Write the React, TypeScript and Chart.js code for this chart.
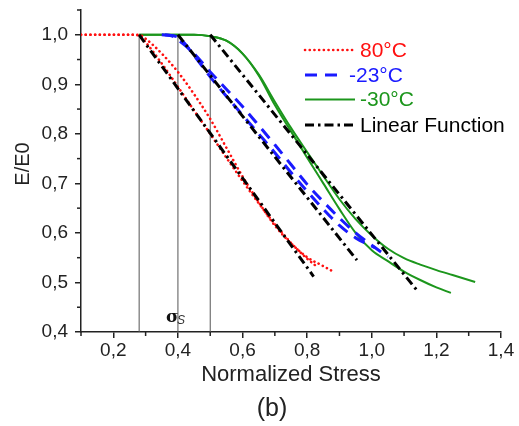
import React, { useEffect, useRef } from "react";
import { Chart, registerables } from "chart.js";

Chart.register(...registerables);

// ---------- data ----------
const stressRedA = [0.10, 0.20, 0.28, 0.30, 0.35, 0.40, 0.45, 0.50, 0.55, 0.60, 0.65, 0.70, 0.75, 0.80, 0.85, 0.875];
const modRedA = [1.000, 1.000, 1.000, 0.992, 0.962, 0.925, 0.880, 0.830, 0.772, 0.714, 0.662, 0.615, 0.579, 0.551, 0.533, 0.524];

const stressRedB = [0.10, 0.26, 0.28, 0.30, 0.35, 0.40, 0.45, 0.50, 0.55, 0.60, 0.65, 0.70, 0.75, 0.80, 0.83];
const modRedB = [1.000, 1.000, 0.998, 0.985, 0.942, 0.895, 0.847, 0.800, 0.752, 0.705, 0.660, 0.618, 0.580, 0.548, 0.532];

const stressBlueA = [0.35, 0.38, 0.40, 0.45, 0.50, 0.55, 0.60, 0.65, 0.70, 0.75, 0.80, 0.85, 0.90, 0.95, 1.00, 1.05];
const modBlueA = [1.000, 0.998, 0.990, 0.962, 0.925, 0.890, 0.855, 0.817, 0.778, 0.738, 0.698, 0.663, 0.630, 0.600, 0.575, 0.552];

const stressBlueB = [0.36, 0.40, 0.45, 0.50, 0.55, 0.60, 0.65, 0.70, 0.75, 0.80, 0.85, 0.90, 0.95, 1.01];
const modBlueB = [1.000, 0.995, 0.958, 0.915, 0.876, 0.838, 0.800, 0.762, 0.722, 0.684, 0.648, 0.615, 0.590, 0.570];

const stressGreenA = [0.28, 0.45, 0.50, 0.55, 0.60, 0.65, 0.70, 0.75, 0.80, 0.85, 0.90, 0.95, 1.00, 1.05, 1.10, 1.15, 1.20, 1.25, 1.32];
const modGreenA = [1.000, 1.000, 0.997, 0.988, 0.962, 0.920, 0.865, 0.812, 0.763, 0.715, 0.668, 0.628, 0.595, 0.568, 0.549, 0.536, 0.525, 0.515, 0.501];

const stressGreenB = [0.28, 0.45, 0.50, 0.55, 0.60, 0.65, 0.70, 0.75, 0.80, 0.85, 0.90, 0.95, 1.00, 1.05, 1.10, 1.15, 1.20, 1.245];
const modGreenB = [1.000, 1.000, 0.997, 0.988, 0.962, 0.918, 0.858, 0.805, 0.752, 0.700, 0.648, 0.600, 0.565, 0.543, 0.522, 0.505, 0.490, 0.479];

// linear functions: start stress at E/E0 = 1, and end points
const linearStart = [0.28, 0.40, 0.50];
const linearEndX = [0.82, 0.954, 1.145];
const linearEndY = [0.512, 0.545, 0.480];

const markerStress = [0.28, 0.40, 0.50];

const xMinorTicks = [0.1, 0.3, 0.5, 0.7, 0.9, 1.1, 1.3];
const yMinorTicks = [0.45, 0.55, 0.65, 0.75, 0.85, 0.95, 1.05];

const legendLabels = ["80°C", "-23°C", "-30°C", "Linear Function"];

// ---------- styles ----------
const FONT = '"Liberation Sans", Arial, sans-serif';
const RED = "#ff1010";
const BLUE = "#1a1aff";
const GREEN = "#1c961c";
const BLACK = "#000000";
const AXIS = "#222222";

const pts = (xs: number[], ys: number[]) => xs.map((x, i) => ({ x, y: ys[i] }));

const redStyle = { borderColor: RED, borderWidth: 2.6, borderDash: [0.1, 4.6], borderCapStyle: "round" as const };
const blueStyle = { borderColor: BLUE, borderWidth: 3, borderDash: [12, 8], borderCapStyle: "butt" as const };
const greenStyle = { borderColor: GREEN, borderWidth: 2, borderDash: [] as number[], borderCapStyle: "butt" as const };
const blackStyle = { borderColor: BLACK, borderWidth: 3, borderDash: [9, 4, 2.5, 4], borderCapStyle: "butt" as const };

const fmt = (v: number | string) => Number(v).toFixed(1).replace(".", ",");

const textPlugin = {
  id: "extraText",
  afterDraw(chart: any) {
    const { ctx, scales } = chart;
    const x = scales.x;
    const y = scales.y;
    ctx.save();
    // minor ticks
    ctx.strokeStyle = AXIS;
    ctx.lineWidth = 1.5;
    for (const v of xMinorTicks) {
      const px = x.getPixelForValue(v);
      ctx.beginPath();
      ctx.moveTo(px, y.bottom);
      ctx.lineTo(px, y.bottom + 4);
      ctx.stroke();
    }
    for (const v of yMinorTicks) {
      const py = y.getPixelForValue(v);
      ctx.beginPath();
      ctx.moveTo(x.left, py);
      ctx.lineTo(x.left - 4, py);
      ctx.stroke();
    }

    // axis titles
    ctx.fillStyle = AXIS;
    ctx.textAlign = "center";
    ctx.textBaseline = "middle";
    ctx.font = `22px ${FONT}`;
    ctx.fillText("Normalized Stress", 291, 375);
    ctx.save();
    ctx.translate(23, 164);
    ctx.rotate(-Math.PI / 2);
    ctx.font = `20px ${FONT}`;
    ctx.fillText("E/E0", 0, 0);
    ctx.restore();
    ctx.font = `25px ${FONT}`;
    ctx.fillText("(b)", 272, 409);

    // sigma_s label
    ctx.textAlign = "left";
    ctx.textBaseline = "alphabetic";
    ctx.fillStyle = "#111";
    ctx.font = `bold 17px "DejaVu Serif", serif`;
    ctx.fillText("σ", 166, 322);
    ctx.fillStyle = "#333";
    ctx.font = `italic 12px ${FONT}`;
    ctx.fillText("S", 177, 324);

    // legend
    const ds = chart.data.datasets;
    const entries = [
      { style: ds[0], y: 50, lineEnd: 353, textX: 360 },
      { style: ds[2], y: 75, lineEnd: 341, textX: 349 },
      { style: ds[4], y: 99.5, lineEnd: 355, textX: 360 },
      { style: ds[6], y: 125, lineEnd: 353, textX: 360 },
    ];
    entries.forEach((e, i) => {
      ctx.save();
      ctx.strokeStyle = e.style.borderColor;
      ctx.lineWidth = e.style.borderWidth;
      ctx.setLineDash(e.style.borderDash || []);
      ctx.lineCap = e.style.borderCapStyle || "butt";
      ctx.beginPath();
      ctx.moveTo(305, e.y);
      ctx.lineTo(e.lineEnd, e.y);
      ctx.stroke();
      ctx.restore();
      ctx.fillStyle = e.style.borderColor;
      ctx.font = `21px ${FONT}`;
      ctx.textAlign = "left";
      ctx.textBaseline = "middle";
      ctx.fillText(legendLabels[i], e.textX, e.y + 1);
    });
    ctx.restore();
  },
};

export default function App() {
  const ref = useRef<HTMLCanvasElement | null>(null);

  useEffect(() => {
    if (!ref.current) return;
    const curve = { pointRadius: 0, fill: false, cubicInterpolationMode: "monotone" as const };
    const datasets: any[] = [
      { label: legendLabels[0], data: pts(stressRedA, modRedA), ...redStyle, ...curve, order: 2 },
      { label: legendLabels[0], data: pts(stressRedB, modRedB), ...redStyle, ...curve, order: 2 },
      { label: legendLabels[1], data: pts(stressBlueA, modBlueA), ...blueStyle, ...curve, order: 3 },
      { label: legendLabels[1], data: pts(stressBlueB, modBlueB), ...blueStyle, ...curve, order: 3 },
      { label: legendLabels[2], data: pts(stressGreenA, modGreenA), ...greenStyle, ...curve, order: 4 },
      { label: legendLabels[2], data: pts(stressGreenB, modGreenB), ...greenStyle, ...curve, order: 4 },
    ];
    linearStart.forEach((s, i) => {
      datasets.push({
        label: legendLabels[3],
        data: [
          { x: s, y: 1.0 },
          { x: linearEndX[i], y: linearEndY[i] },
        ],
        ...blackStyle,
        pointRadius: 0,
        fill: false,
        order: 1,
      });
    });
    markerStress.forEach((s) => {
      datasets.push({
        label: "marker",
        data: [
          { x: s, y: 0.4 },
          { x: s, y: 1.0 },
        ],
        borderColor: "#555555",
        borderWidth: 1,
        pointRadius: 0,
        fill: false,
        order: 5,
      });
    });

    const chart = new Chart(ref.current, {
      type: "line",
      data: { datasets },
      options: {
        animation: false,
        responsive: false,
        maintainAspectRatio: false,
        layout: { padding: { left: 0, right: 18, top: 10, bottom: 0 } },
        plugins: { legend: { display: false }, tooltip: { enabled: false }, title: { display: false } },
        scales: {
          x: {
            type: "linear",
            min: 0.1,
            max: 1.4,
            ticks: {
              stepSize: 0.2,
              includeBounds: false,
              autoSkip: false,
              maxRotation: 0,
              padding: 1,
              color: AXIS,
              font: { family: FONT, size: 19 },
              callback: (v: any) => fmt(v),
            },
            grid: { drawOnChartArea: false, drawTicks: true, tickLength: 6, color: AXIS, lineWidth: 1.5 },
            border: { display: true, color: AXIS, width: 1.5 },
            afterFit: (s: any) => {
              s.height = 94;
              s.paddingLeft = 0;
              s.paddingRight = 0;
            },
          },
          y: {
            type: "linear",
            min: 0.4,
            max: 1.05,
            ticks: {
              stepSize: 0.1,
              includeBounds: false,
              padding: 7,
              color: AXIS,
              font: { family: FONT, size: 19 },
              callback: (v: any) => fmt(v),
            },
            grid: { drawOnChartArea: false, drawTicks: true, tickLength: 6, color: AXIS, lineWidth: 1.5 },
            border: { display: true, color: AXIS, width: 1.5 },
            afterFit: (s: any) => {
              s.width = 81;
              s.paddingTop = 0;
              s.paddingBottom = 0;
            },
          },
        },
      },
      plugins: [textPlugin],
    });
    return () => chart.destroy();
  }, []);

  return (
    <div style={{ position: "fixed", left: 0, top: 0, width: 519, height: 426, background: "#fff" }}>
      <canvas ref={ref} width={519} height={426} style={{ display: "block" }} />
    </div>
  );
}
